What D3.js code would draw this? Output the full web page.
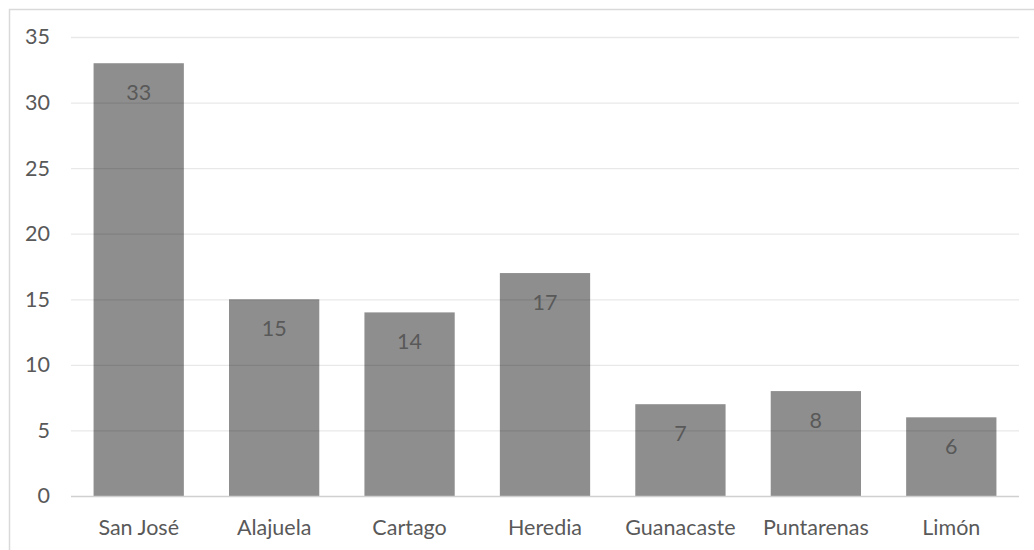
<!DOCTYPE html>
<html>
<head>
<meta charset="utf-8">
<script src="https://cdn.jsdelivr.net/npm/d3@7"></script>
<style>
  html, body { margin: 0; padding: 0; background: #fff; }
  svg { display: block; }
  text { font-family: Lato, "Open Sans", sans-serif; fill: #595959; }
</style>
</head>
<body>
<svg id="chart" width="1034" height="550"></svg>
<script>
// Provinces of Costa Rica and their counts
const categories = ["San José", "Alajuela", "Cartago", "Heredia", "Guanacaste", "Puntarenas", "Limón"];
const values = [33, 15, 14, 17, 7, 8, 6];
const yTicks = [0, 5, 10, 15, 20, 25, 30, 35];

const W = 1034, H = 550;
const margin = { left: 71, right: 15, top: 37, bottom: 54 };
const fontSize = 21.5;
const svg = d3.select("#chart");

// chart frame
svg.append("rect")
  .attr("x", 9.5).attr("y", 9.5)
  .attr("width", W + 20).attr("height", H + 20)
  .attr("fill", "none").attr("stroke", "#d9d9d9").attr("stroke-width", 1.5);

const x = d3.scaleBand()
  .domain(categories)
  .range([margin.left, W - margin.right])
  .paddingInner(1 / 3)
  .paddingOuter(1 / 6);

const y = d3.scaleLinear()
  .domain([0, 35])
  .range([H - margin.bottom, margin.top]);

// bars
svg.append("g").selectAll("rect")
  .data(values)
  .join("rect")
  .attr("x", (d, i) => x(categories[i]))
  .attr("y", d => y(d))
  .attr("width", x.bandwidth())
  .attr("height", d => y(0) - y(d))
  .attr("fill", "#8e8e8e");

// horizontal gridlines, drawn over the bars
const yAxis = d3.axisLeft(y)
  .tickValues(yTicks)
  .tickSize(-(W - margin.right - margin.left))
  .tickPadding(21)
  .tickFormat(d3.format("d"));

const gy = svg.append("g")
  .attr("transform", `translate(${margin.left},0)`)
  .call(yAxis);
gy.select(".domain").remove();
gy.selectAll(".tick line")
  .attr("stroke", "rgba(0,0,0,0.09)")
  .attr("stroke-width", 1.3);
gy.selectAll(".tick")
  .filter(d => d === 0)
  .select("line")
  .attr("stroke", "#d0d0d0")
  .attr("stroke-width", 1.6);
gy.selectAll(".tick text")
  .attr("font-size", fontSize)
  .attr("fill", "#595959");

// category axis
const xAxis = d3.axisBottom(x).tickSize(0).tickPadding(24);
const gx = svg.append("g")
  .attr("transform", `translate(0,${y(0)})`)
  .call(xAxis);
gx.select(".domain").remove();
gx.selectAll(".tick text")
  .attr("font-size", fontSize)
  .attr("fill", "#595959");

// value labels inside the top of each bar
svg.append("g").selectAll("text")
  .data(values)
  .join("text")
  .attr("x", (d, i) => x(categories[i]) + x.bandwidth() / 2)
  .attr("y", d => y(d) + 37)
  .attr("text-anchor", "middle")
  .attr("font-size", fontSize)
  .attr("fill", "#404040")
  .text(d => d);
</script>
</body>
</html>
